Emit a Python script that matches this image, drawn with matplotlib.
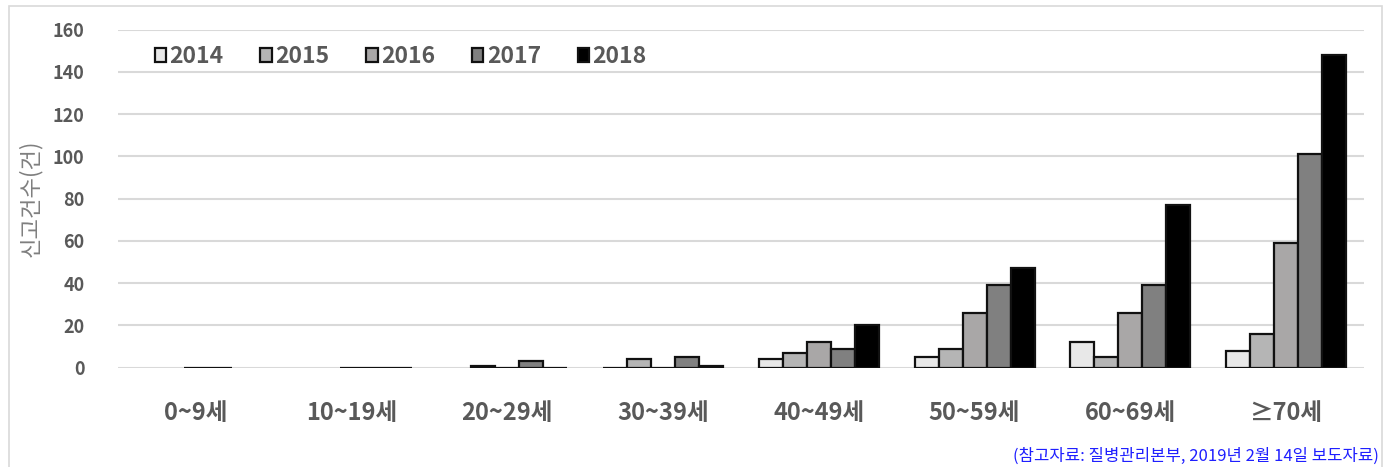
import numpy as np
import matplotlib
matplotlib.use('Agg')
import matplotlib.pyplot as plt
from matplotlib.patches import Rectangle

plt.rcParams['font.family'] = ['Noto Sans CJK KR', 'DejaVu Sans']

# age groups and yearly report counts (nan = no bar drawn)
ages = ['0~9세', '10~19세', '20~29세', '30~39세', '40~49세', '50~59세', '60~69세', '≥70세']
years = ['2014', '2015', '2016', '2017', '2018']
nan = np.nan
cnt_2014 = [nan, nan, nan, 0, 4, 5, 12, 8]
cnt_2015 = [nan, nan, 1, 4, 7, 9, 5, 16]
cnt_2016 = [0, 0, 0, 0, 12, 26, 26, 59]
cnt_2017 = [0, 0, 3, 5, 9, 39, 39, 101]
cnt_2018 = [nan, 0, 0, 1, 20, 47, 77, 148]
series = [cnt_2014, cnt_2015, cnt_2016, cnt_2017, cnt_2018]
colors = ['#e8e8e8', '#b5b5b5', '#a9a7a7', '#808080', '#000000']

fig = plt.figure(figsize=(13.91, 4.67), dpi=100)
ax = fig.add_axes([0.0848, 0.2126, 0.8958, 0.724])

x = np.arange(len(ages))
w = 0.154
for i, (vals, c) in enumerate(zip(series, colors)):
    ax.bar(x + (i - 2) * w, vals, width=w, color=c, edgecolor='#111111',
           linewidth=1.6, label=years[i], zorder=3)

ax.set_xlim(-0.5, len(ages) - 0.5)
ax.set_ylim(0, 160)
ax.set_yticks(range(0, 161, 20))
ax.yaxis.grid(True, color='#d9d9d9', linewidth=1.5, zorder=0)
ax.set_axisbelow(True)
for s in ax.spines.values():
    s.set_visible(False)
ax.tick_params(axis='both', length=0)
ax.tick_params(axis='y', labelsize=13, labelcolor='#595959', pad=24)
ax.tick_params(axis='x', labelsize=17, labelcolor='#595959', pad=24)
for t in ax.get_yticklabels() + ax.get_xticklabels():
    t.set_fontweight('bold')
ax.set_xticks(x)
ax.set_xticklabels(ages)

ax.set_ylabel('신고건수(건)', fontsize=16, color='#7f7f7f', labelpad=8)

leg = ax.legend(ncol=5, loc='center left', bbox_to_anchor=(0.013, 0.92),
                frameon=False, handlelength=0.5, handleheight=0.5,
                handletextpad=0.15, columnspacing=1.6,
                prop={'size': 16.5, 'weight': 'bold'})
for t in leg.get_texts():
    t.set_color('#595959')

fig.text(0.991, 0.004, '(참고자료: 질병관리본부, 2019년 2월 14일 보도자료)',
         ha='right', va='bottom', fontsize=12, color='#1f1fff')

fig.patches.append(Rectangle((0.0065, -0.01), 0.987, 0.997, transform=fig.transFigure,
                             fill=False, edgecolor='#d9d9d9', linewidth=1.2))

fig.savefig('out.png', dpi=100)
